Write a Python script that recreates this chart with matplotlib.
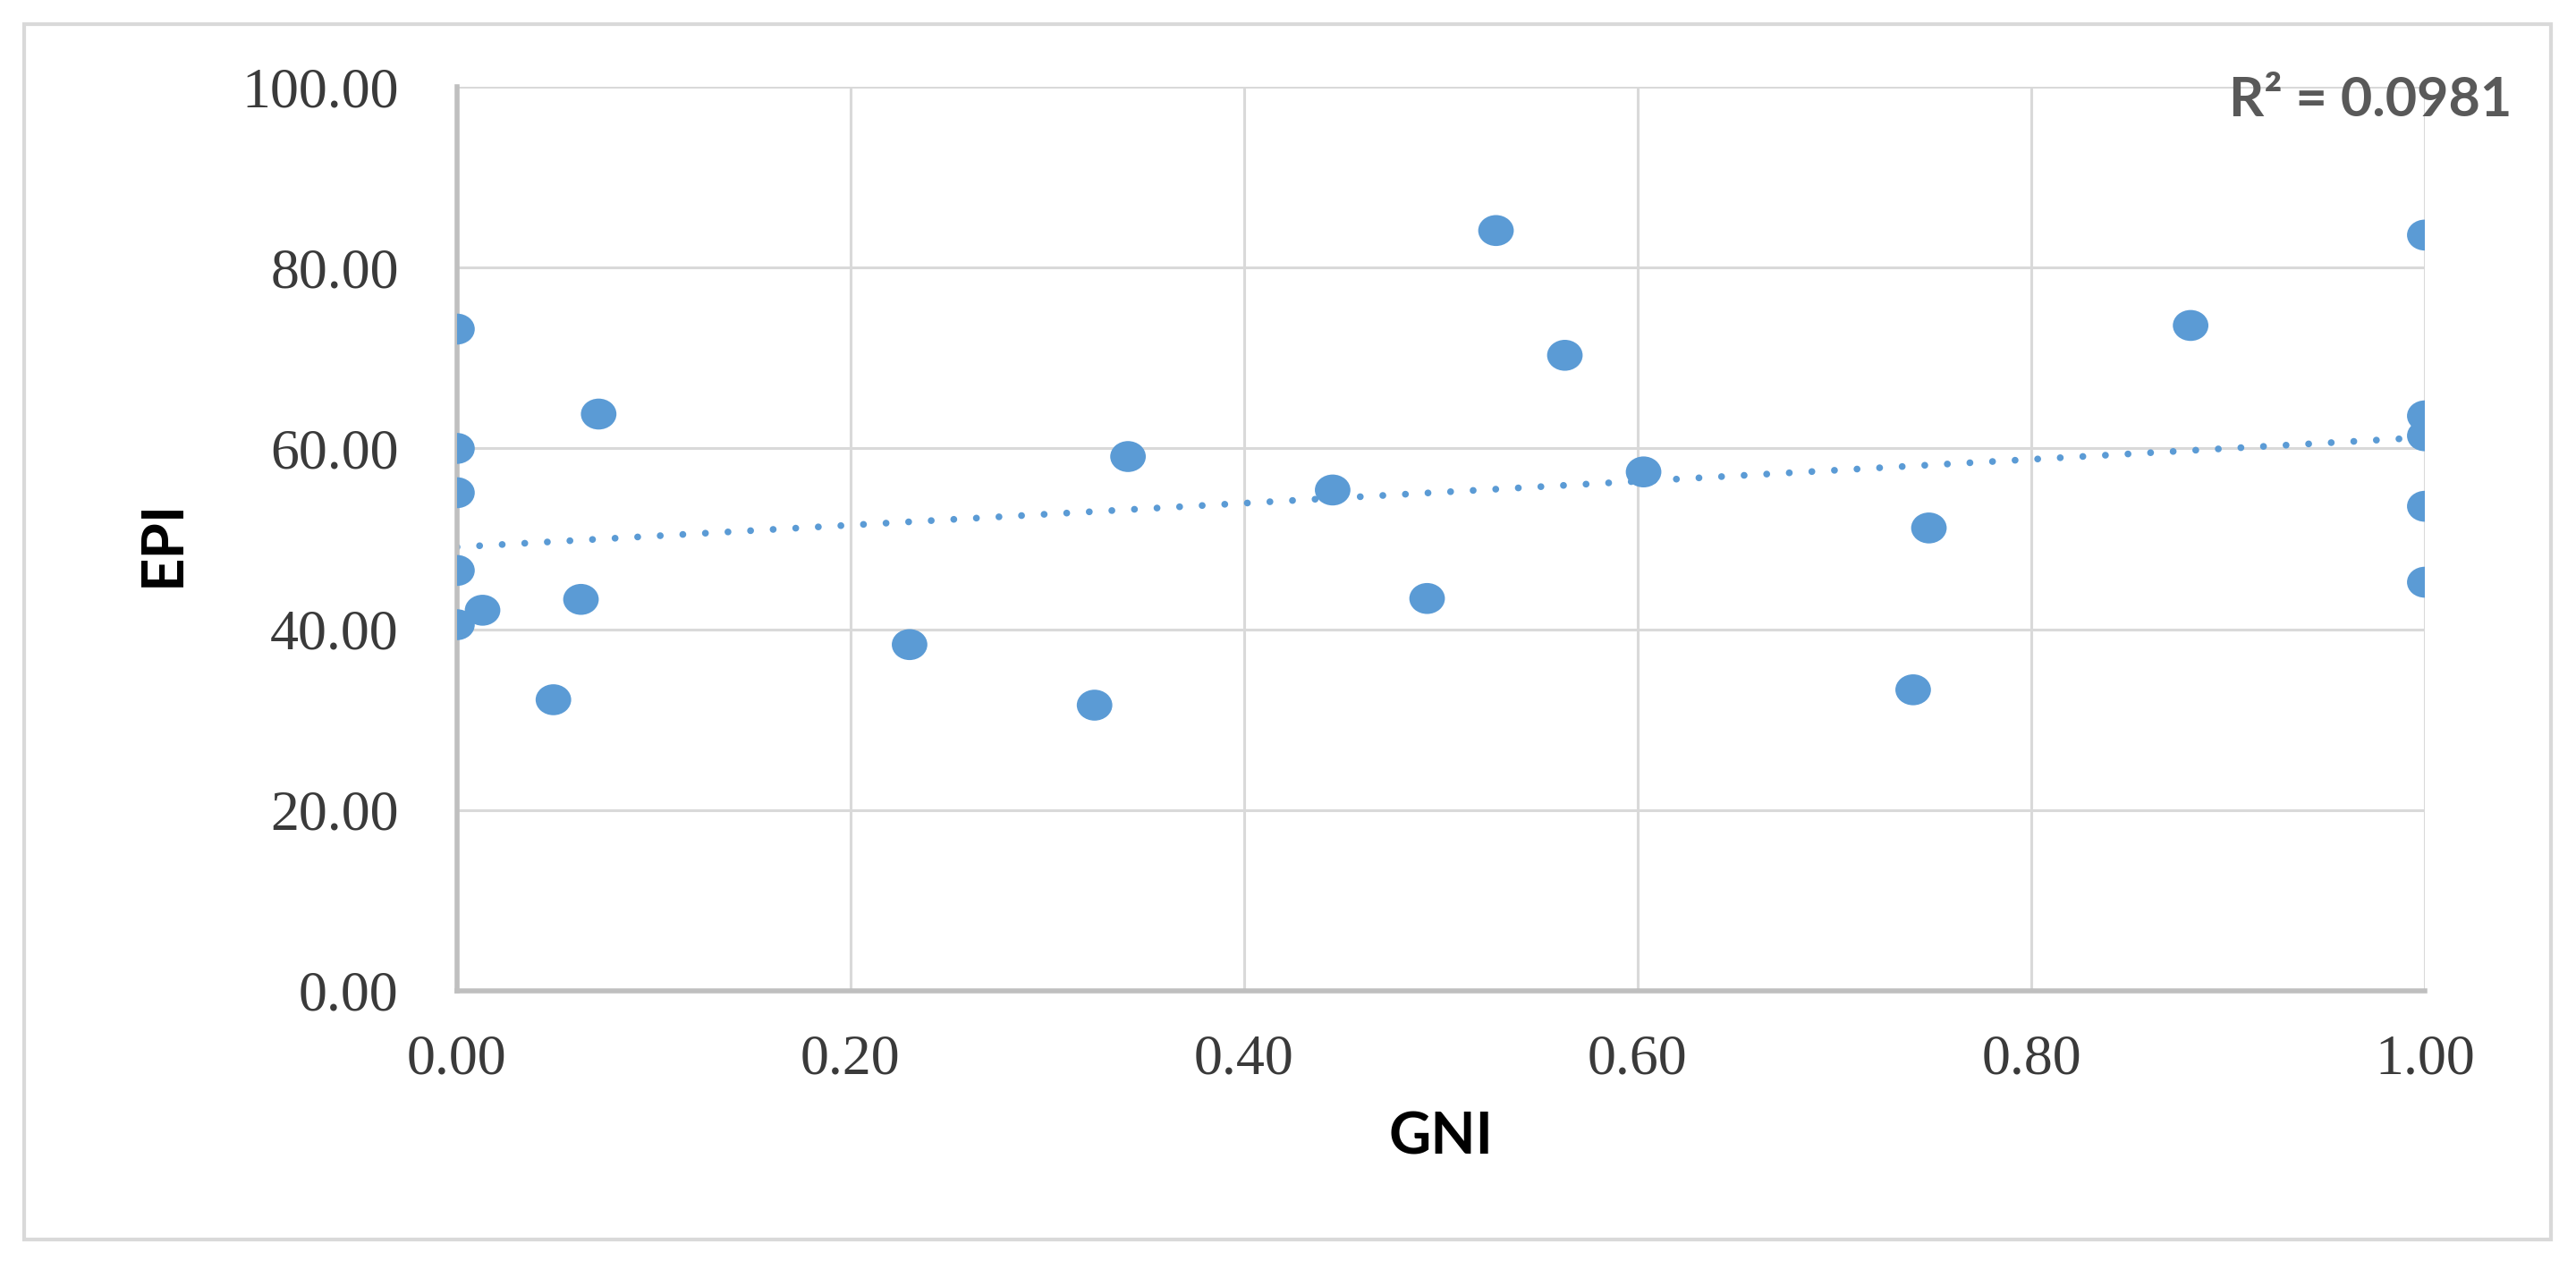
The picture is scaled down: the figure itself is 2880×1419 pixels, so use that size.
import numpy as np
import matplotlib
matplotlib.use("Agg")
import matplotlib.pyplot as plt
from matplotlib.patches import Rectangle
from matplotlib.path import Path
from matplotlib.transforms import Affine2D

# values
gni = [0.0, 0.0, 0.0, 0.0, 0.0, 0.013, 0.049, 0.063, 0.072,
       0.230, 0.324, 0.341, 0.445, 0.493, 0.528, 0.563, 0.603,
       0.740, 0.748, 0.881, 1.0, 1.0, 1.0, 1.0, 1.0]
epi = [73.2, 60.0, 55.1, 46.5, 40.5, 42.1, 32.2, 43.3, 63.8,
       38.3, 31.6, 59.1, 55.4, 43.4, 84.1, 70.3, 57.4,
       33.3, 51.2, 73.6, 83.6, 63.6, 61.4, 53.6, 45.2]

x_ticks = [0.0, 0.2, 0.4, 0.6, 0.8, 1.0]
y_ticks = [0, 20, 40, 60, 80, 100]
r2_label = "R² = 0.0981"

blue = "#5b9bd5"
grid_grey = "#d9d9d9"

# slightly flattened dot, like in the original export
oval = Path.unit_circle().transformed(Affine2D().scale(1.0, 0.87))

fig = plt.figure(figsize=(28.8, 14.19), dpi=100)
ax = fig.add_axes([0.1774, 0.2192, 0.7639, 0.7124])

# outer chart frame
fig.patches.append(Rectangle((0.0094, 0.0233), 0.981, 0.9577, transform=fig.transFigure,
                             fill=False, edgecolor=grid_grey, linewidth=3))

ax.scatter(gni, epi, s=820, marker=oval, color=blue, edgecolors="none", zorder=3)

# linear trendline
slope, intercept = np.polyfit(gni, epi, 1)
xs = np.array([0.0, 1.0])
ax.plot(xs, slope * xs + intercept, color=blue, linewidth=5.5,
        linestyle=(0, (0.01, 3.3)), dash_capstyle="round", zorder=2)

ax.set_xlim(0, 1)
ax.set_ylim(0, 100)
ax.set_xticks(x_ticks)
ax.set_yticks(y_ticks)
ax.set_xticklabels([f"{v:.2f}" for v in x_ticks])
ax.set_yticklabels([f"{v:.2f}" for v in y_ticks])
ax.grid(True, color=grid_grey, linewidth=2.2)
ax.set_axisbelow(True)

for side in ["top", "right"]:
    ax.spines[side].set_visible(False)
for side in ["left", "bottom"]:
    ax.spines[side].set_color("#bfbfbf")
    ax.spines[side].set_linewidth(4)

ax.tick_params(axis="both", length=0, labelsize=46, labelcolor="#3a3a3a")
ax.tick_params(axis="y", pad=47)
ax.tick_params(axis="x", pad=35)
for lbl in ax.get_xticklabels() + ax.get_yticklabels():
    lbl.set_family("Liberation Serif")

ax.set_xlabel("GNI", fontsize=47, fontweight="bold", family="Lato", color="black")
ax.set_ylabel("EPI", fontsize=47, fontweight="bold", family="Lato", color="black")
ax.xaxis.label.set_va("center")
ax.yaxis.label.set_va("center")
ax.xaxis.set_label_coords(0.5, -0.162)
ax.yaxis.set_label_coords(-0.1495, 0.4955)

ax.text(1.0445, 0.985, r2_label, transform=ax.transAxes, ha="right", va="center",
        fontsize=44, fontweight="bold", family="Lato", color="#595959")

fig.savefig("out.png", dpi=100, facecolor="white")
